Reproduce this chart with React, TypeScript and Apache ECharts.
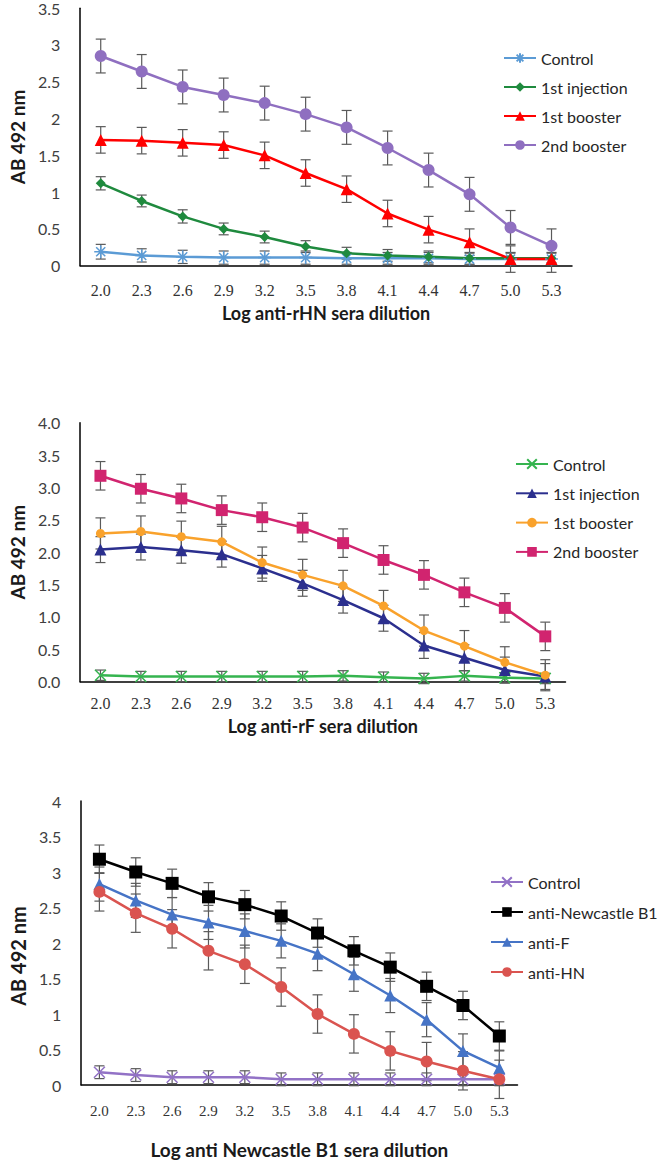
import React, { useEffect, useRef } from "react";
import * as echarts from "echarts";

const categories = ["2.0", "2.3", "2.6", "2.9", "3.2", "3.5", "3.8", "4.1", "4.4", "4.7", "5.0", "5.3"];

// Chart 1: anti-rHN
const hnNames = ["Control", "1st injection", "1st booster", "2nd booster"];
const hnControl = [0.19, 0.14, 0.12, 0.11, 0.11, 0.11, 0.10, 0.10, 0.10, 0.09, 0.09, 0.09];
const hnInjection = [1.12, 0.88, 0.67, 0.50, 0.39, 0.26, 0.17, 0.14, 0.12, 0.10, 0.10, 0.10];
const hnBooster1 = [1.71, 1.70, 1.67, 1.64, 1.50, 1.26, 1.04, 0.71, 0.49, 0.32, 0.09, 0.09];
const hnBooster2 = [2.85, 2.64, 2.43, 2.32, 2.21, 2.06, 1.88, 1.60, 1.30, 0.97, 0.52, 0.27];
const hnControlErr = [0.10, 0.09, 0.09, 0.09, 0.09, 0.09, 0.08, 0.08, 0.08, 0.08, 0.08, 0.08];
const hnInjectionErr = [0.09, 0.08, 0.09, 0.08, 0.08, 0.08, 0.08, 0.08, 0.08, 0.08, 0.08, 0.08];
const hnBooster1Err = [0.18, 0.18, 0.18, 0.18, 0.18, 0.18, 0.18, 0.18, 0.18, 0.18, 0.18, 0.18];
const hnBooster2Err = [0.23, 0.23, 0.23, 0.23, 0.23, 0.23, 0.23, 0.23, 0.23, 0.23, 0.23, 0.23];

// Chart 2: anti-rF
const fNames = ["Control", "1st injection", "1st booster", "2nd booster"];
const fControl = [0.10, 0.08, 0.08, 0.08, 0.08, 0.08, 0.09, 0.07, 0.05, 0.09, 0.06, 0.05];
const fInjection = [2.04, 2.08, 2.03, 1.97, 1.75, 1.52, 1.26, 0.98, 0.56, 0.37, 0.18, 0.08];
const fBooster1 = [2.29, 2.32, 2.24, 2.16, 1.84, 1.65, 1.48, 1.17, 0.79, 0.55, 0.30, 0.10];
const fBooster2 = [3.18, 2.98, 2.83, 2.65, 2.54, 2.38, 2.14, 1.88, 1.65, 1.38, 1.14, 0.70];
const fControlErr = [0.08, 0.08, 0.08, 0.08, 0.08, 0.08, 0.08, 0.08, 0.08, 0.08, 0.08, 0.08];
const fInjectionErr = [0.20, 0.20, 0.20, 0.20, 0.20, 0.20, 0.20, 0.20, 0.20, 0.20, 0.20, 0.20];
const fBooster1Err = [0.24, 0.24, 0.24, 0.24, 0.24, 0.24, 0.24, 0.24, 0.24, 0.24, 0.24, 0.24];
const fBooster2Err = [0.22, 0.22, 0.22, 0.22, 0.22, 0.22, 0.22, 0.22, 0.22, 0.22, 0.22, 0.22];

// Chart 3: anti Newcastle B1
const ndvNames = ["Control", "anti-Newcastle B1", "anti-F", "anti-HN"];
const ndvControl = [0.18, 0.14, 0.11, 0.11, 0.11, 0.08, 0.08, 0.08, 0.08, 0.08, 0.08, 0.08];
const ndvB1 = [3.18, 3.00, 2.84, 2.65, 2.54, 2.38, 2.14, 1.89, 1.66, 1.39, 1.12, 0.69];
const ndvF = [2.83, 2.60, 2.40, 2.29, 2.17, 2.03, 1.85, 1.56, 1.26, 0.92, 0.48, 0.24];
const ndvHN = [2.72, 2.42, 2.20, 1.89, 1.70, 1.38, 1.00, 0.72, 0.48, 0.33, 0.20, 0.08];
const ndvControlErr = [0.09, 0.09, 0.09, 0.09, 0.09, 0.09, 0.09, 0.09, 0.09, 0.09, 0.09, 0.09];
const ndvB1Err = [0.20, 0.20, 0.20, 0.20, 0.20, 0.20, 0.20, 0.20, 0.20, 0.20, 0.20, 0.20];
const ndvFErr = [0.24, 0.24, 0.24, 0.24, 0.24, 0.24, 0.24, 0.24, 0.24, 0.24, 0.24, 0.24];
const ndvHNErr = [0.27, 0.27, 0.27, 0.27, 0.27, 0.27, 0.27, 0.27, 0.27, 0.27, 0.27, 0.27];

const yTitle = "AB 492 nm";

const ASTERISK = "path://M0,5L10,5M5,0L5,10M1.5,1.5L8.5,8.5M8.5,1.5L1.5,8.5";
const CROSS = "path://M0,0L10,10M10,0L0,10";

const SANS = "Lato, 'Noto Sans', sans-serif";
const SERIF = "'Liberation Serif', 'DejaVu Serif', serif";

function errRender(params: any, api: any) {
  const x = api.value(0);
  const lo = api.value(1);
  const hi = api.value(2);
  const top = api.coord([x, hi]);
  const bot = api.coord([x, lo]);
  const w = 5;
  const style = { stroke: "#5a5a5a", lineWidth: 1.2 };
  return {
    type: "group",
    children: [
      { type: "line", shape: { x1: top[0], y1: top[1], x2: bot[0], y2: bot[1] }, style },
      { type: "line", shape: { x1: top[0] - w, y1: top[1], x2: top[0] + w, y2: top[1] }, style },
      { type: "line", shape: { x1: bot[0] - w, y1: bot[1], x2: bot[0] + w, y2: bot[1] }, style },
    ],
  };
}

function makeSeries(
  name: string,
  values: number[],
  errs: number[],
  color: string,
  symbol: string,
  size: number,
  stroked: boolean
) {
  const line = {
    type: "line",
    name,
    data: values,
    symbol,
    symbolSize: size,
    showAllSymbol: true,
    z: 3,
    lineStyle: { color, width: 2.5 },
    itemStyle: stroked
      ? { color, borderColor: color, borderWidth: 1.5 }
      : { color, borderColor: color, borderWidth: 0 },
    emphasis: { disabled: true },
  };
  const err = {
    type: "custom",
    name: name + " error",
    z: 2,
    renderItem: errRender,
    data: values.map((v, i) => [i, v - errs[i], v + errs[i]]),
    silent: true,
  };
  return [line, err];
}

type Cfg = {
  top: number;
  height: number;
  grid: any;
  max: number;
  fmt: (v: number) => string;
  xTitle: string;
  xLabelMargin: number;
  xLabelSize: number;
  xNameGap: number;
  xNameSize: number;
  yNameGap: number;
  yNameSize: number;
  yNamePad: number[];
  legendPos: { left: number; top: number; gap: number; size: number };
  names: string[];
  series: any[];
};

const configs: Cfg[] = [
  {
    top: 0,
    height: 370,
    grid: { left: 68, top: 8.2, width: 504, height: 257.5 },
    max: 3.5,
    fmt: (v) => String(v),
    xTitle: "Log anti-rHN sera dilution",
    xLabelMargin: 17,
    xLabelSize: 16,
    xNameGap: 32,
    xNameSize: 18,
    yNameGap: 45,
    yNameSize: 19,
    yNamePad: [0, 0, 0, 0],
    legendPos: { left: 503, top: 50, gap: 13, size: 16 },
    names: hnNames,
    series: [
      ...makeSeries(hnNames[0], hnControl, hnControlErr, "#5b9bd5", ASTERISK, 13, true),
      ...makeSeries(hnNames[1], hnInjection, hnInjectionErr, "#1f8a3e", "diamond", 10, false),
      ...makeSeries(hnNames[2], hnBooster1, hnBooster1Err, "#ff0000", "triangle", 12, false),
      ...makeSeries(hnNames[3], hnBooster2, hnBooster2Err, "#8f6fc0", "circle", 12, false),
    ],
  },
  {
    top: 370,
    height: 380,
    grid: { left: 67.5, top: 52.7, width: 498, height: 259 },
    max: 4,
    fmt: (v) => v.toFixed(1),
    xTitle: "Log anti-rF sera dilution",
    xLabelMargin: 14,
    xLabelSize: 16,
    xNameGap: 35,
    xNameSize: 18,
    yNameGap: 45,
    yNameSize: 19,
    yNamePad: [0, 0, 0, 0],
    legendPos: { left: 515, top: 456, gap: 13.3, size: 16 },
    names: fNames,
    series: [
      ...makeSeries(fNames[0], fControl, fControlErr, "#35b44f", CROSS, 11, true),
      ...makeSeries(fNames[1], fInjection, fInjectionErr, "#2b2f8e", "triangle", 12, false),
      ...makeSeries(fNames[2], fBooster1, fBooster1Err, "#f9a22c", "circle", 9, false),
      ...makeSeries(fNames[3], fBooster2, fBooster2Err, "#d1246f", "rect", 12, false),
    ],
  },
  {
    top: 750,
    height: 417,
    grid: { left: 69.5, top: 51, width: 448, height: 284 },
    max: 4,
    fmt: (v) => String(v),
    xTitle: "Log anti Newcastle B1 sera dilution",
    xLabelMargin: 18,
    xLabelSize: 15,
    xNameGap: 55,
    xNameSize: 19,
    yNameGap: 46,
    yNameSize: 20,
    yNamePad: [0, 26, 0, 0],
    legendPos: { left: 490, top: 874, gap: 14, size: 16 },
    names: ndvNames,
    series: [
      ...makeSeries(ndvNames[0], ndvControl, ndvControlErr, "#9272c6", CROSS, 11, true),
      ...makeSeries(ndvNames[1], ndvB1, ndvB1Err, "#000000", "rect", 13, false),
      ...makeSeries(ndvNames[2], ndvF, ndvFErr, "#4674c6", "triangle", 12, false),
      ...makeSeries(ndvNames[3], ndvHN, ndvHNErr, "#da5450", "circle", 12, false),
    ],
  },
];

const ChartBox: React.FC<{ cfg: Cfg }> = ({ cfg }) => {
  const ref = useRef<HTMLDivElement>(null);
  useEffect(() => {
    if (!ref.current) return;
    const chart = echarts.init(ref.current, undefined, { renderer: "svg" });
    chart.setOption({
      animation: false,
      grid: cfg.grid,
      xAxis: {
        type: "category",
        data: categories,
        boundaryGap: true,
        axisLine: { lineStyle: { color: "#000", width: 1.5 } },
        axisTick: { show: false },
        axisLabel: {
          margin: cfg.xLabelMargin,
          fontFamily: SERIF,
          fontSize: cfg.xLabelSize,
          color: "#333",
          interval: 0,
        },
        name: cfg.xTitle,
        nameLocation: "middle",
        nameGap: cfg.xNameGap,
        nameTextStyle: { fontFamily: SANS, fontWeight: "bold", fontSize: cfg.xNameSize, color: "#1a1a1a" },
      },
      yAxis: {
        type: "value",
        min: 0,
        max: cfg.max,
        interval: 0.5,
        axisLine: { show: true, lineStyle: { color: "#000", width: 1.5 } },
        axisTick: { show: false },
        splitLine: { show: false },
        axisLabel: {
          margin: 20,
          fontFamily: SANS,
          fontSize: 16,
          color: "#404040",
          formatter: cfg.fmt,
        },
        name: yTitle,
        nameLocation: "middle",
        nameGap: cfg.yNameGap,
        nameTextStyle: {
          fontFamily: SANS,
          fontWeight: "bold",
          fontSize: cfg.yNameSize,
          color: "#1a1a1a",
          padding: cfg.yNamePad,
        },
      },
      legend: {
        orient: "vertical",
        left: cfg.legendPos.left,
        top: cfg.legendPos.top - cfg.top,
        padding: 0,
        itemWidth: 32,
        itemHeight: 12,
        itemGap: cfg.legendPos.gap,
        selectedMode: false,
        data: cfg.names,
        textStyle: {
          fontFamily: SANS,
          fontSize: cfg.legendPos.size,
          lineHeight: 16,
          color: "#262626",
        },
      },
      series: cfg.series,
    });
    return () => chart.dispose();
  }, [cfg]);
  return (
    <div
      ref={ref}
      style={{ position: "absolute", left: 0, top: cfg.top, width: 664, height: cfg.height }}
    />
  );
};

const App: React.FC = () => {
  return (
    <div style={{ position: "absolute", left: 0, top: 0, width: 664, height: 1167, background: "#fff" }}>
      {configs.map((c, i) => (
        <ChartBox key={i} cfg={c} />
      ))}
    </div>
  );
};

export default App;
